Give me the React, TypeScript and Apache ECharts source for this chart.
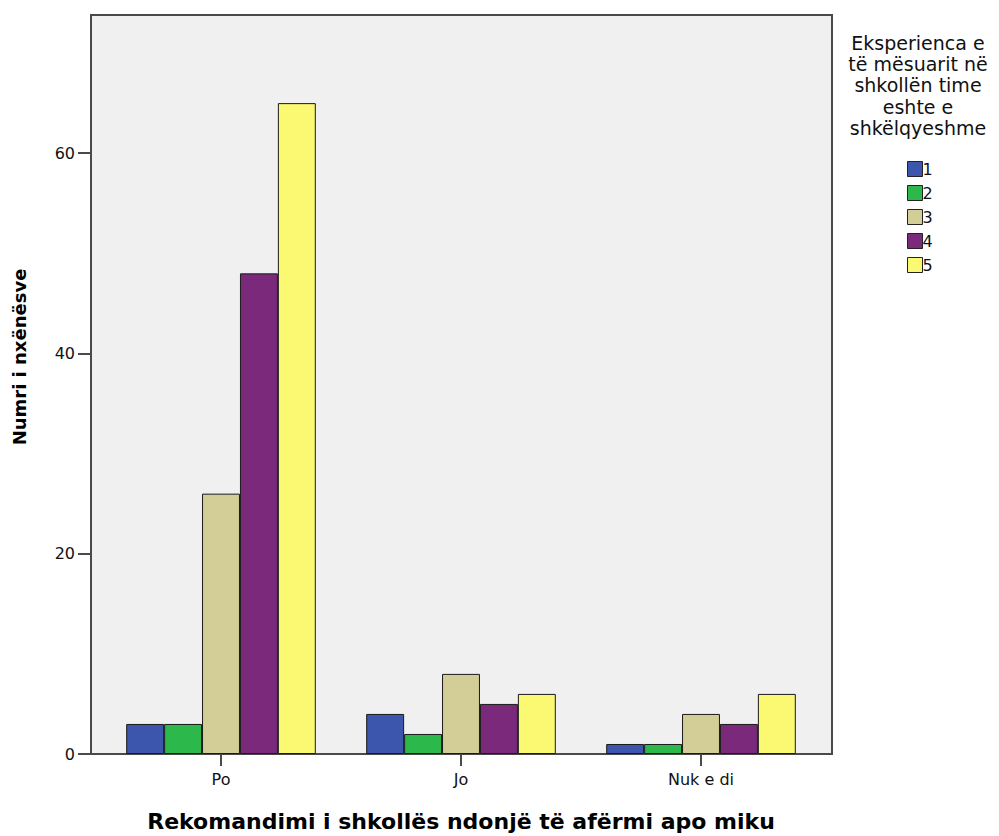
import React, { useEffect, useRef } from "react";
import * as echarts from "echarts";

const categories = ["Po", "Jo", "Nuk e di"];
const seriesNames = ["1", "2", "3", "4", "5"];
const values1 = [3, 4, 1];
const values2 = [3, 2, 1];
const values3 = [26, 8, 4];
const values4 = [48, 5, 3];
const values5 = [65, 6, 6];
const yTicks = [0, 20, 40, 60];
const colors = ["#3c56ad", "#2db84b", "#d3ce97", "#7b2a7b", "#fbf872"];
const legendTitle = ["Eksperienca e", "të mësuarit në", "shkollën time", "eshte e", "shkëlqyeshme"];
const yTitle = "Numri i nxënësve";
const xTitle = "Rekomandimi i shkollës ndonjë të afërmi apo miku";

const FONT = "'DejaVu Sans', sans-serif";

export default function App() {
  const ref = useRef<HTMLDivElement>(null);
  useEffect(() => {
    if (!ref.current) return;
    const chart = echarts.init(ref.current, null, { renderer: "svg" });
    const all = [values1, values2, values3, values4, values5];
    chart.setOption({
      animation: false,
      backgroundColor: "#ffffff",
      textStyle: { fontFamily: FONT },
      grid: { left: 101, width: 720, top: 15, bottom: 82, containLabel: false },
      graphic: [
        {
          type: "rect",
          z: -10,
          shape: { x: 91, y: 15, width: 741, height: 739 },
          style: { fill: "#f0f0f0", stroke: "#4a4a4a", lineWidth: 2 },
        },
        {
          type: "text",
          x: 918,
          y: 32,
          style: {
            text: legendTitle.join("\n"),
            font: `19px ${FONT}`,
            fill: "#111",
            textAlign: "center",
            lineHeight: 21.3,
          },
        },
        {
          type: "text",
          x: 19,
          y: 357,
          rotation: Math.PI / 2,
          style: {
            text: yTitle,
            font: `bold 18px ${FONT}`,
            fill: "#000",
            textAlign: "center",
            textVerticalAlign: "middle",
          },
        },
        {
          type: "text",
          x: 461,
          y: 821,
          style: {
            text: xTitle,
            font: `bold 22px ${FONT}`,
            fill: "#000",
            textAlign: "center",
            textVerticalAlign: "middle",
          },
        },
      ],
      legend: {
        orient: "vertical",
        left: 902,
        top: 156,
        icon: "rect",
        itemWidth: 15,
        itemHeight: 15,
        itemGap: 8,
        data: seriesNames,
        textStyle: { fontFamily: FONT, fontSize: 16, color: "#111", padding: [0, 0, 0, -5] },
        itemStyle: { borderColor: "#222", borderWidth: 1 },
      },
      xAxis: {
        type: "category",
        data: categories,
        boundaryGap: true,
        axisLine: { show: false },
        axisTick: { show: true, alignWithLabel: true, length: 12, lineStyle: { color: "#4a4a4a", width: 2 } },
        axisLabel: { margin: 17, fontSize: 16, color: "#111", fontFamily: FONT },
        splitLine: { show: false },
      },
      yAxis: {
        type: "value",
        min: 0,
        max: 73.8,
        interval: 20,
        offset: 10,
        axisLine: { show: true, lineStyle: { color: "#4a4a4a", width: 2 } },
        axisTick: { show: true, length: 13, customValues: yTicks, lineStyle: { color: "#4a4a4a", width: 2 } },
        axisLabel: { margin: 16, fontSize: 16, color: "#111", fontFamily: FONT, customValues: yTicks },
        splitLine: { show: false },
      },
      series: seriesNames.map((name, i) => ({
        name,
        type: "bar",
        data: all[i],
        barGap: "0%",
        barCategoryGap: "21%",
        itemStyle: { color: colors[i], borderColor: "#1a1a1a", borderWidth: 1 },
      })),
    });
    return () => chart.dispose();
  }, []);
  return (
    <div
      ref={ref}
      style={{ position: "fixed", left: 0, top: 0, width: 999, height: 836 }}
    />
  );
}
